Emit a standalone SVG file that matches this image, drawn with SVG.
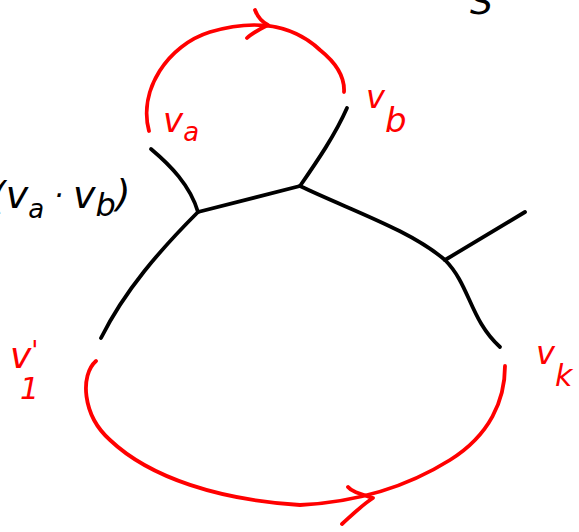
<svg xmlns="http://www.w3.org/2000/svg" width="579" height="532" viewBox="0 0 579 532">
<style>
.k{fill:none;stroke:#000;stroke-width:3.8;stroke-linecap:round;stroke-linejoin:round}
.r{fill:none;stroke:#f00;stroke-width:3.8;stroke-linecap:round;stroke-linejoin:round}
.tr{fill:#f00;font-family:"DejaVu Sans",sans-serif;font-style:oblique}
.tk{fill:#000;font-family:"DejaVu Sans",sans-serif;font-style:oblique}
</style>
<rect width="579" height="532" fill="#fff"/>
<g id="edges">
<path class="k" d="M151,149 C170,165 190,185 198,212"/>
<path class="k" d="M198,212 L300,186"/>
<path class="k" d="M300,186 C318,160 335,135 347,108"/>
<path class="k" d="M300,186 C350,210 410,230 445,260"/>
<path class="k" d="M445,260 L525,212"/>
<path class="k" d="M445,260 C470,285 470,320 500,347"/>
<path class="k" d="M198,212 C160,250 125,290 101,338"/>
</g>
<g id="loop-top">
<path class="r" d="M149,131 C138,90 168,45 210,32 C250,20 290,22 320,50 C335,62 345,75 344,92"/>
<path class="r" d="M255,10 C258,18 262,22 268,25 C258,30 250,35 247,38"/>
</g>
<g id="loop-bottom">
<path class="r" d="M96,361 C80,375 82,415 110,440 C150,478 220,500 300,505 C360,502 410,485 450,460 C490,435 505,400 505,366"/>
<path class="r" d="M348,487 C352,492 360,494 373,498 C362,505 352,515 342,524"/>
</g>
<g id="label-va">
<text class="tr" x="163" y="132" font-size="34">v<tspan dy="9" font-size="26">a</tspan></text>
</g>
<g id="label-vb">
<text class="tr" x="366" y="108" font-size="32">v<tspan dy="24" font-size="34">b</tspan></text>
</g>
<g id="label-v1">
<text class="tr" x="10" y="368" font-size="36">v<tspan dy="-8" font-size="26">'</tspan></text>
<text class="tr" x="20" y="399" font-size="30">1</text>
</g>
<g id="label-vk">
<text class="tr" x="536" y="364" font-size="32">v<tspan dy="22" font-size="30">k</tspan></text>
</g>
<g id="label-pair">
<text class="tk" x="-9" y="208" font-size="38">(v<tspan dy="10" font-size="26">a</tspan><tspan dy="-12" font-size="30"> · </tspan><tspan dy="2" font-size="38">v</tspan><tspan dy="8" font-size="32">b</tspan><tspan dy="-10" font-size="38">)</tspan></text>
</g>
<g id="label-s">
<text class="tk" x="470" y="14" font-size="36">S</text>
</g>
</svg>
